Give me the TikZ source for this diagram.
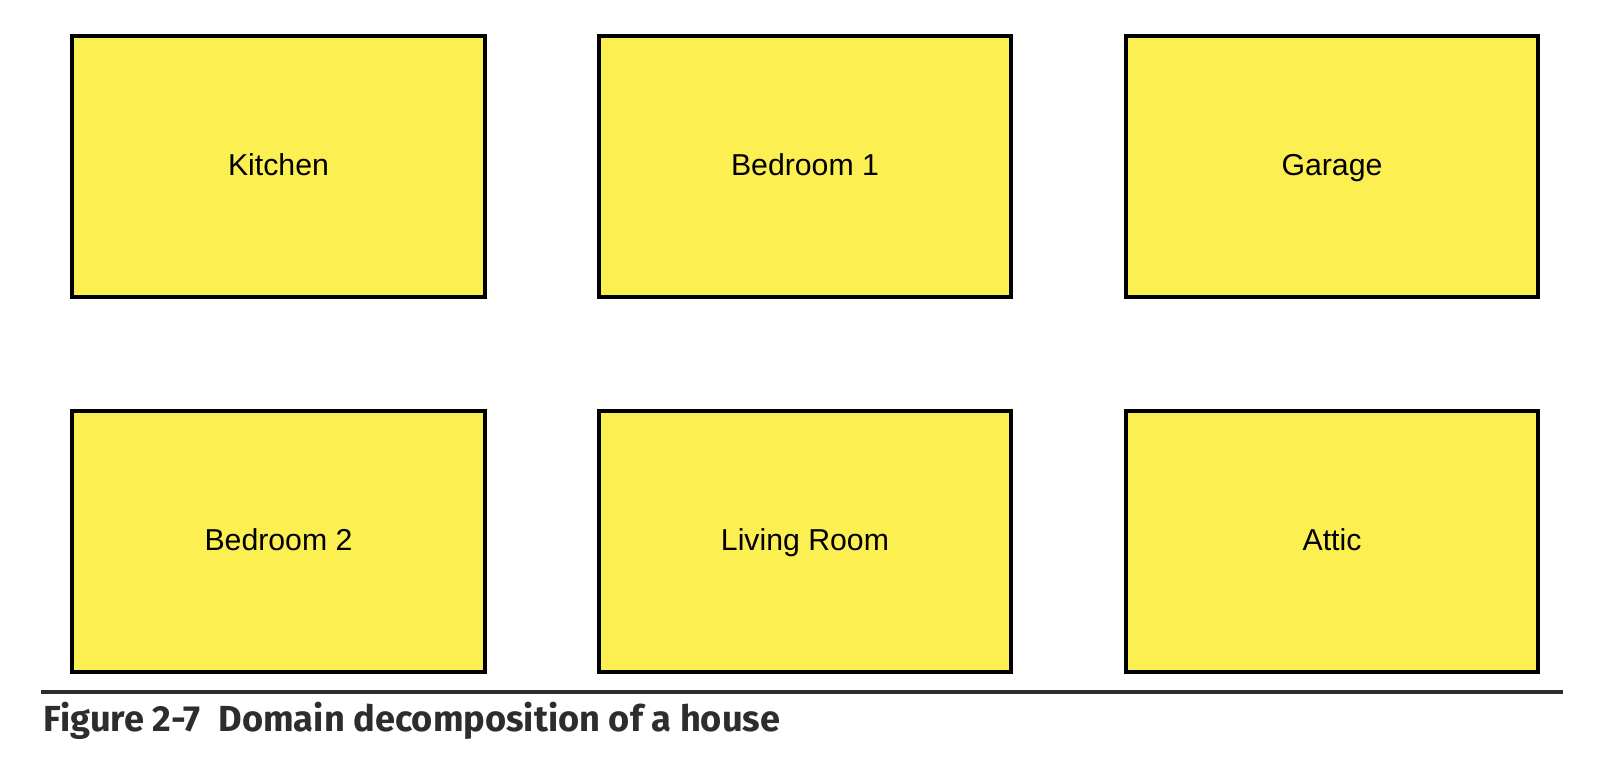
\documentclass[tikz,border=0pt]{standalone}
\usepackage{fontspec}
\setmainfont{Liberation Sans}
\newfontfamily\capfont{Fira Sans}
\usetikzlibrary{math}
\definecolor{ryellow}{RGB}{252,239,82}
\definecolor{rule}{RGB}{45,45,45}

\begin{document}
\begin{tikzpicture}[x=0.01cm,y=-0.01cm,
  room/.style={draw=black, fill=ryellow, line width=0.04cm, inner sep=0pt,
    minimum width=4.12cm, minimum height=2.6cm, text height=0.72em, text depth=0.21em,
    font=\fontsize{8.6}{10}\selectfont}]

\tikzmath{
\xa = 278.5;
\xb = 805;
\xc = 1332;
\ya = 166.5;
\yb = 541.5;
}

\useasboundingbox (0,0) rectangle (1600,760);

%top row
\node[room] (kitchen) at (\xa,\ya) {Kitchen};
\node[room] (bedone) at (\xb,\ya) {Bedroom 1};
\node[room] (garage) at (\xc,\ya) {Garage};
%bottom row
\node[room] (bedtwo) at (\xa,\yb) {Bedroom 2};
\node[room] (living) at (\xb,\yb) {Living Room};
\node[room] (attic) at (\xc,\yb) {Attic};

%caption
\coordinate (rulea) at (41,691.5);
\coordinate (ruleb) at (1563,691.5);
\draw[rule, line width=0.04cm] (rulea) -- (ruleb);
\node[anchor=base west, inner sep=0pt, font=\capfont\fontsize{10.3}{12}\selectfont, text=rule]
  (caption) at (43,731) {\bfseries Figure 2-7\enspace Domain decomposition of a house};

\end{tikzpicture}
\end{document}
